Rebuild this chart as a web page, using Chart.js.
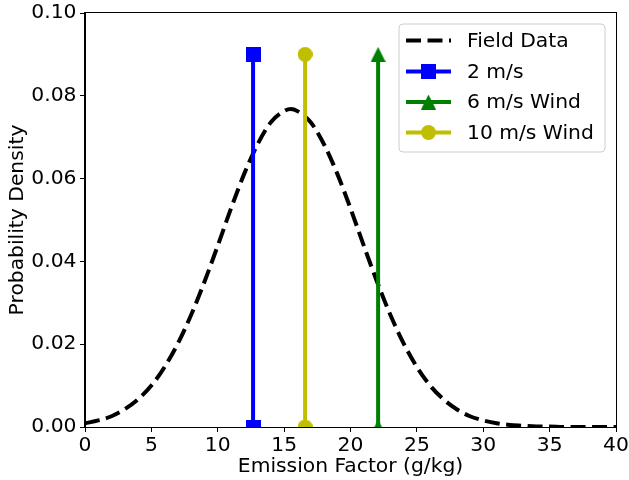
<!DOCTYPE html>
<html>
<head>
<meta charset="utf-8">
<script src="https://cdn.jsdelivr.net/npm/chart.js@4/dist/chart.umd.min.js"></script>
<style>
  html, body { margin: 0; padding: 0; background: #fff; }
  canvas { display: block; }
</style>
</head>
<body>
<canvas id="c" width="629" height="480"></canvas>
<script>
// ---------------- data ----------------
const emissionFactor = [0,1,2,3,4,5,6,7,8,9,10,11,12,13,14,15,15.5,16,17,18,19,20,21,22,23,24,25,26,27,28,29,30,31,32,33,34,35,36,37,38,39,40];
const fieldDensity = [0.0009,0.0016,0.0026,0.0043,0.0067,0.0100,0.0145,0.0202,0.0271,0.0351,0.0438,0.0528,0.0612,0.0683,0.0736,0.0763,0.0768,0.0763,0.0736,0.0683,0.0612,0.0528,0.0438,0.0351,0.0271,0.0202,0.0145,0.0100,0.0067,0.0043,0.0026,0.0016,0.0009,0.0005,0.0003,0.0001,0.0001,0,0,0,0,0];
const windLabels = ['2 m/s', '6 m/s Wind', '10 m/s Wind'];
const windEmission = [12.66, 22.08, 16.58];
const stemBottom = 0;
const stemTop = 0.09;
const xTicks = [0,5,10,15,20,25,30,35,40];
const yTicks = [0,0.02,0.04,0.06,0.08,0.10];

// ---------------- styles ----------------
const FONT = 'DejaVu Sans';
const FS = 20.3;
const windColors = ['#0000ff', '#008000', '#bfbf00'];

function makeMarker(kind, color) {
  const s = 15;
  const c = document.createElement('canvas');
  c.width = s; c.height = s;
  const g = c.getContext('2d');
  g.fillStyle = color;
  if (kind === 'square') {
    g.fillRect(0, 0, s, s);
  } else if (kind === 'circle') {
    g.beginPath(); g.arc(s/2, s/2, s/2, 0, Math.PI*2); g.fill();
  } else {
    g.beginPath(); g.moveTo(s/2, 0); g.lineTo(s, s); g.lineTo(0, s); g.closePath(); g.fill();
  }
  return c;
}
const markers = [makeMarker('square', windColors[0]), makeMarker('triangle', windColors[1]), makeMarker('circle', windColors[2])];

const datasets = [{
  label: 'Field Data',
  data: emissionFactor.map((x, i) => ({x: x, y: fieldDensity[i]})),
  borderColor: '#000000',
  borderWidth: 4,
  borderDash: [15, 6.5],
  pointRadius: 0,
  cubicInterpolationMode: 'monotone',
  fill: false,
  order: 10,
  clip: 0
}];
windLabels.forEach((lab, i) => {
  datasets.push({
    label: lab,
    data: [{x: windEmission[i], y: stemBottom}, {x: windEmission[i], y: stemTop}],
    borderColor: windColors[i],
    backgroundColor: windColors[i],
    borderWidth: 4,
    pointStyle: markers[i],
    pointRadius: 7.5,
    fill: false,
    order: 0,
    clip: 0,
    markerImg: markers[i]
  });
});

const framePlugin = {
  id: 'frame',
  afterDatasetsDraw(chart) {
    const {ctx, chartArea: a} = chart;
    ctx.save();
    ctx.strokeStyle = '#000';
    ctx.lineWidth = 1;
    ctx.strokeRect(Math.round(a.left) - 0.5, Math.round(a.top) - 0.5, Math.round(a.right - a.left) + 1, Math.round(a.bottom - a.top) + 1);
    ctx.restore();
  }
};

const legendPlugin = {
  id: 'mplLegend',
  afterDraw(chart) {
    const ctx = chart.ctx;
    const bx = 399, by = 24, bw = 206, bh = 128, r = 4;
    ctx.save();
    ctx.beginPath();
    ctx.moveTo(bx + r, by);
    ctx.arcTo(bx + bw, by, bx + bw, by + bh, r);
    ctx.arcTo(bx + bw, by + bh, bx, by + bh, r);
    ctx.arcTo(bx, by + bh, bx, by, r);
    ctx.arcTo(bx, by, bx + bw, by, r);
    ctx.closePath();
    ctx.fillStyle = 'rgba(255,255,255,0.8)';
    ctx.fill();
    ctx.strokeStyle = '#cccccc';
    ctx.lineWidth = 1;
    ctx.stroke();
    const rows = [40.5, 71.5, 102, 132.5];
    chart.data.datasets.forEach((ds, i) => {
      const y = rows[i];
      ctx.beginPath();
      ctx.setLineDash(ds.borderDash || []);
      ctx.strokeStyle = ds.borderColor;
      ctx.lineWidth = ds.borderWidth;
      ctx.moveTo(406, y);
      ctx.lineTo(451, y);
      ctx.stroke();
      ctx.setLineDash([]);
      if (ds.markerImg) {
        ctx.drawImage(ds.markerImg, 428.5 - 7.5, y - 7.5);
      }
      ctx.fillStyle = '#000';
      ctx.font = FS + 'px "' + FONT + '"';
      ctx.textBaseline = 'middle';
      ctx.textAlign = 'left';
      ctx.fillText(ds.label, 467, y + 1);
    });
    ctx.restore();
  }
};

new Chart(document.getElementById('c'), {
  type: 'line',
  data: { datasets: datasets },
  options: {
    responsive: false,
    animation: false,
    devicePixelRatio: 1,
    layout: { padding: { top: 13, right: 13, left: 0, bottom: 0 } },
    plugins: { legend: { display: false }, tooltip: { enabled: false } },
    scales: {
      x: {
        type: 'linear',
        min: 0, max: 40,
        afterFit(s) { s.height = 53; s.paddingLeft = 0; s.paddingRight = 0; },
        afterBuildTicks(s) { s.ticks = xTicks.map(v => ({value: v})); },
        ticks: { color: '#000', font: { family: FONT, size: FS }, padding: 2, maxRotation: 0, autoSkip: false, callback: v => String(v) },
        grid: { display: true, drawOnChartArea: false, drawTicks: true, tickLength: 5, color: '#000', lineWidth: 1 },
        border: { display: true, color: '#000', width: 1 },
        title: { display: true, text: 'Emission Factor (g/kg)', color: '#000', font: { family: FONT, size: FS, lineHeight: 1.2 }, padding: { top: 0, bottom: 1.5 } }
      },
      y: {
        type: 'linear',
        min: 0, max: 0.10,
        afterFit(s) { s.width = 85; s.paddingTop = 0; s.paddingBottom = 0; },
        afterBuildTicks(s) { s.ticks = yTicks.map(v => ({value: v})); },
        ticks: { color: '#000', font: { family: FONT, size: FS }, padding: 3.5, autoSkip: false, callback: v => Number(v).toFixed(2) },
        grid: { display: true, drawOnChartArea: false, drawTicks: true, tickLength: 5, color: '#000', lineWidth: 1 },
        border: { display: true, color: '#000', width: 1 },
        title: { display: true, text: 'Probability Density', color: '#000', font: { family: FONT, size: FS, lineHeight: 1.2 }, padding: { top: 6, bottom: 0 } }
      }
    }
  },
  plugins: [framePlugin, legendPlugin]
});
</script>
</body>
</html>
